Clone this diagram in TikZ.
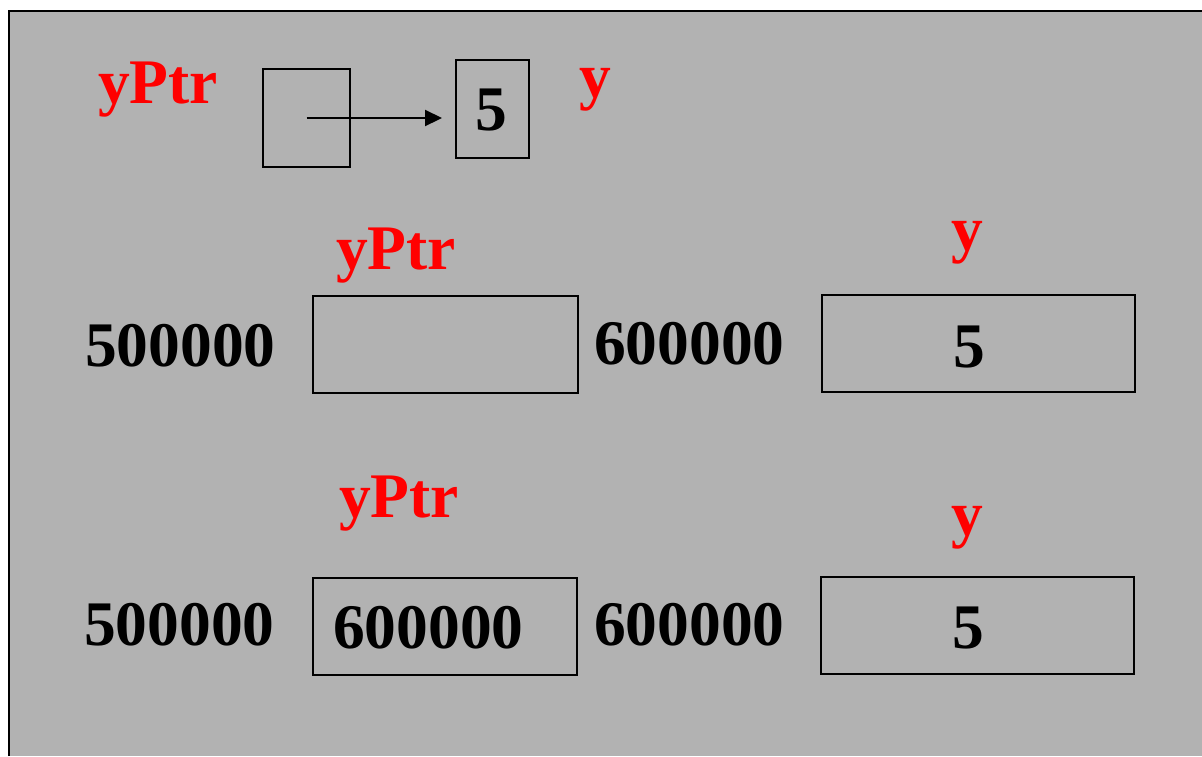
\documentclass[tikz,border=0pt]{standalone}
\usepackage{fontspec}
\setmainfont{Liberation Serif}
\usetikzlibrary{arrows.meta}
\definecolor{panel}{HTML}{B2B2B2}
\definecolor{lbl}{HTML}{FF0000}
\tikzset{
  cell/.style={draw=black, line width=2pt, rectangle, inner sep=0pt},
  txt/.style={font=\fontsize{63.5}{63.5}\selectfont\bfseries, inner sep=0pt, anchor=base west},
  varlbl/.style={txt, text=lbl},
  link/.style={line width=2.2pt, -{Triangle[length=17pt,width=16pt]}}
}
\begin{document}
\begin{tikzpicture}[x=1pt, y=-1pt]
  \useasboundingbox (0,0) rectangle (1202,756);
  % panel with top and left border
  \fill[panel] (9,11) rectangle (1202,756);
  \draw[line width=2.5pt] (9,756) -- (9,11) -- (1202,11);

  % first row: pointer box and pointee
  \node[varlbl] (lptr1) at (98,103) {yPtr};
  \node[cell, minimum width=87pt, minimum height=98pt] (ptr) at (306.5,118) {};
  \node[cell, minimum width=73pt, minimum height=98pt] (val) at (492.5,109) {};
  \node[txt, anchor=base] (v1) at (491,130) {5};
  \node[varlbl] (ly1) at (579,97) {y};
  \draw[link, shorten >=13pt] (ptr.center) -- (val.west |- ptr.center);

  % second row: memory before assignment
  \node[varlbl] (lptr2) at (336,269) {yPtr};
  \node[varlbl] (ly2) at (951,250) {y};
  \node[txt] (a2) at (85,366) {500000};
  \node[cell, minimum width=265pt, minimum height=97pt] (m2) at (445.5,344.5) {};
  \node[txt] (b2) at (594,364) {600000};
  \node[cell, minimum width=313pt, minimum height=97pt] (y2) at (978.5,343.5) {};
  \node[txt, anchor=base] (v2) at (969,367) {5};

  % third row: memory after assignment
  \node[varlbl] (lptr3) at (339,517) {yPtr};
  \node[varlbl] (ly3) at (951,535) {y};
  \node[txt] (a3) at (84,645) {500000};
  \node[cell, minimum width=264pt, minimum height=97pt] (m3) at (445,626.5) {};
  \node[txt] (c3) at (333,648) {600000};
  \node[txt] (b3) at (594,645) {600000};
  \node[cell, minimum width=313pt, minimum height=97pt] (y3) at (977.5,625.5) {};
  \node[txt, anchor=base] (v3) at (968,648) {5};
\end{tikzpicture}
\end{document}
